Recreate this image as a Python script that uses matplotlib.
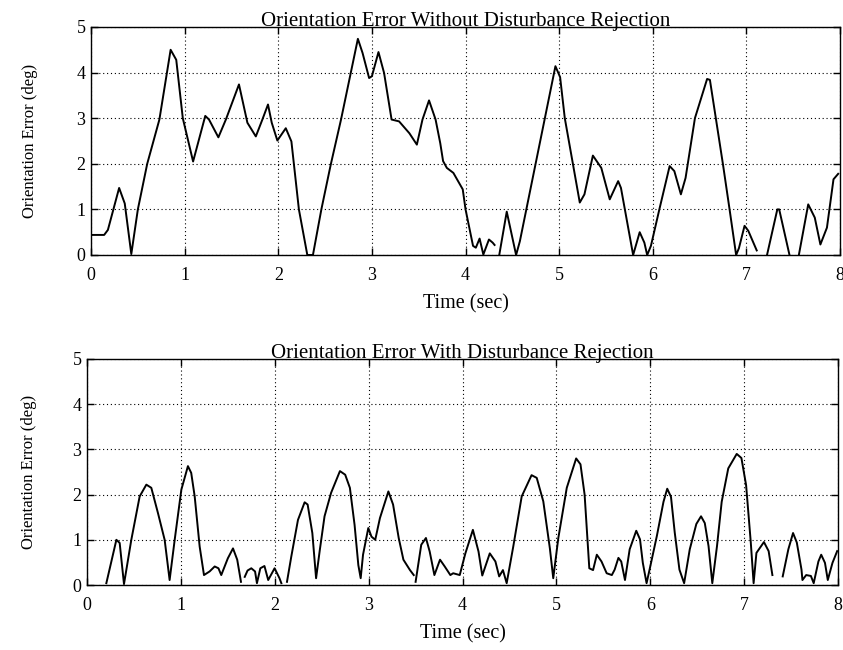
import numpy as np
import matplotlib
matplotlib.use("Agg")
import matplotlib.pyplot as plt

nan = np.nan

# Orientation error without disturbance rejection (deg); NaN marks breaks in the trace
t_without = [0.00, 0.14, 0.18, 0.30, 0.36, 0.43, 0.50, 0.60, 0.73, 0.85, 0.91, 0.98,
             1.09, 1.22, 1.26, 1.36, 1.44, 1.58, 1.67, 1.76, 1.83, 1.89, 1.93, 1.99,
             2.08, 2.14, 2.22, 2.31, 2.37, 2.46, 2.56, 2.67, 2.85, 2.90, 2.97, 3.00,
             3.07, 3.13, 3.21, 3.29, 3.40, 3.48, 3.54, 3.61, 3.68, 3.73, 3.76, 3.80,
             3.87, 3.97, 4.00, 4.08, 4.11, 4.15, 4.19, 4.25, 4.29, 4.31, nan,
             4.36, 4.44, 4.54, 4.58, 4.96, 5.01, 5.06, 5.22, 5.27, 5.36, 5.45, 5.54,
             5.63, 5.66, 5.79, 5.86, 5.91, 5.94, 5.98, 6.07, 6.18, 6.23, 6.30, 6.35,
             6.45, 6.58, 6.61, 6.75, 6.82, 6.89, 6.92, 6.98, 7.02, 7.11, nan,
             7.22, 7.33, 7.35, 7.46, nan,
             7.56, 7.66, 7.73, 7.79, 7.86, 7.93, 7.98]
e_without = [0.44, 0.44, 0.55, 1.47, 1.13, 0.02, 1.00, 2.00, 2.97, 4.50, 4.28, 3.00,
             2.05, 3.05, 2.97, 2.58, 2.97, 3.74, 2.90, 2.60, 2.97, 3.30, 2.90, 2.51,
             2.78, 2.49, 1.00, 0.00, 0.00, 1.00, 1.98, 2.97, 4.74, 4.43, 3.88, 3.92,
             4.45, 3.99, 2.97, 2.93, 2.67, 2.42, 2.97, 3.39, 2.97, 2.45, 2.06, 1.91,
             1.80, 1.44, 1.00, 0.20, 0.16, 0.36, 0.01, 0.34, 0.27, 0.22, nan,
             0.00, 0.95, 0.00, 0.30, 4.14, 3.90, 3.00, 1.15, 1.33, 2.18, 1.91, 1.22,
             1.62, 1.47, 0.00, 0.50, 0.27, 0.00, 0.20, 1.00, 1.95, 1.84, 1.33, 1.69,
             3.00, 3.86, 3.84, 1.98, 1.00, 0.00, 0.15, 0.64, 0.53, 0.10, nan,
             0.00, 1.00, 1.00, 0.00, nan,
             0.00, 1.11, 0.82, 0.23, 0.60, 1.66, 1.78]

# Orientation error with disturbance rejection (deg)
t_with = [0.206, 0.313, 0.348, 0.394, 0.472, 0.561, 0.632, 0.685, 0.756, 0.827,
          0.880, 0.934, 1.005, 1.075, 1.110, 1.147, 1.200, 1.246, 1.306, 1.360,
          1.400, 1.430, 1.500, 1.555, 1.600, 1.640, nan,
          1.680, 1.710, 1.750, 1.790, 1.810, 1.846, 1.890, 1.930, 1.998, 2.050,
          2.070, nan,
          2.130, 2.176, 2.247, 2.318, 2.350, 2.400, 2.440, 2.480, 2.530, 2.600,
          2.694, 2.750, 2.800, 2.850, 2.890, 2.915, 2.940, 2.996, 3.030, 3.070,
          3.120, 3.210, 3.260, 3.320, 3.370, 3.440, 3.480, nan,
          3.500, 3.560, 3.610, 3.650, 3.700, 3.760, 3.810, 3.870, 3.900, 3.970,
          4.030, 4.110, 4.170, 4.210, 4.290, 4.350, 4.390, 4.430, 4.470, 4.540,
          4.630, 4.735, 4.790, 4.860, 4.930, 4.966, 5.020, 5.110, 5.210, 5.256,
          5.300, 5.350, 5.390, 5.430, 5.480, 5.535, 5.590, 5.620, 5.660, 5.690,
          5.730, 5.780, 5.850, 5.890, 5.920, 5.960, 5.995, 6.070, 6.140, 6.180,
          6.220, 6.260, 6.310, 6.360, 6.420, 6.490, 6.540, 6.580, 6.620, 6.660,
          6.710, 6.760, 6.830, 6.920, 6.970, 7.020, 7.070, 7.100, 7.130, 7.210,
          7.260, 7.300, nan,
          7.410, 7.470, 7.520, 7.560, 7.610, 7.620, 7.660, 7.710, 7.740, 7.790,
          7.820, 7.860, 7.890, 7.940, 7.990]
e_with = [0.04, 1.00, 0.93, 0.02, 1.00, 1.96, 2.22, 2.15, 1.59, 1.00,
          0.11, 1.00, 2.11, 2.63, 2.48, 1.96, 0.85, 0.22, 0.30, 0.41,
          0.37, 0.22, 0.59, 0.81, 0.56, 0.07, nan,
          0.18, 0.32, 0.37, 0.30, 0.04, 0.37, 0.42, 0.11, 0.37, 0.15,
          0.04, nan,
          0.07, 0.63, 1.44, 1.83, 1.78, 1.15, 0.15, 0.78, 1.52, 2.04,
          2.52, 2.44, 2.15, 1.33, 0.44, 0.15, 0.67, 1.26, 1.07, 1.00,
          1.48, 2.07, 1.78, 1.04, 0.56, 0.33, 0.22, nan,
          0.07, 0.89, 1.04, 0.74, 0.22, 0.56, 0.41, 0.22, 0.26, 0.22,
          0.70, 1.22, 0.74, 0.21, 0.70, 0.52, 0.19, 0.33, 0.04, 0.85,
          1.96, 2.43, 2.37, 1.85, 0.81, 0.15, 1.04, 2.15, 2.80, 2.67,
          2.00, 0.37, 0.33, 0.67, 0.52, 0.26, 0.22, 0.34, 0.60, 0.52,
          0.11, 0.79, 1.20, 1.01, 0.49, 0.04, 0.37, 1.09, 1.84, 2.13,
          1.95, 1.16, 0.34, 0.04, 0.79, 1.35, 1.52, 1.37, 0.86, 0.04,
          0.86, 1.84, 2.58, 2.90, 2.81, 2.21, 0.94, 0.04, 0.71, 0.95,
          0.75, 0.22, nan,
          0.19, 0.79, 1.15, 0.94, 0.34, 0.11, 0.22, 0.20, 0.04, 0.52,
          0.67, 0.49, 0.11, 0.49, 0.75]

titles = ["Orientation Error Without Disturbance Rejection",
          "Orientation Error With Disturbance Rejection"]
x_ticks = [0, 1, 2, 3, 4, 5, 6, 7, 8]
y_ticks = [0, 1, 2, 3, 4, 5]
x_label = "Time (sec)"
y_label = "Orientation Error (deg)"

plt.rcParams["font.family"] = ["Liberation Serif", "DejaVu Serif"]

fig = plt.figure(figsize=(8.43, 6.5), dpi=100)
ax_top = fig.add_axes([0.108, 0.6077, 0.8885, 0.3508])
ax_bot = fig.add_axes([0.1032, 0.10, 0.891, 0.3477])

panels = [(ax_top, t_without, e_without, titles[0], -0.071),
          (ax_bot, t_with, e_with, titles[1], -0.066)]

for ax, t, e, title, ylab_x in panels:
    ax.plot(t, e, color="black", linewidth=1.4)
    ax.set_xlim(0, 8)
    ax.set_ylim(0, 5)
    ax.set_xticks(x_ticks)
    ax.set_yticks(y_ticks)
    ax.grid(True, linestyle=(0, (1, 2.5)), color="black", linewidth=0.8)
    ax.tick_params(direction="in", top=True, right=True, length=5, width=1,
                   labelsize=13)
    ax.tick_params(axis="x", pad=9)
    ax.tick_params(axis="y", pad=4)
    for s in ax.spines.values():
        s.set_linewidth(1.0)
    ax.set_title(title, fontsize=15, pad=1)
    ax.set_xlabel(x_label, fontsize=14.5, labelpad=7)
    ax.set_ylabel(y_label, fontsize=12)
    ax.yaxis.set_label_coords(ylab_x, 0.5)

fig.savefig("out.png", dpi=100, facecolor="white")
